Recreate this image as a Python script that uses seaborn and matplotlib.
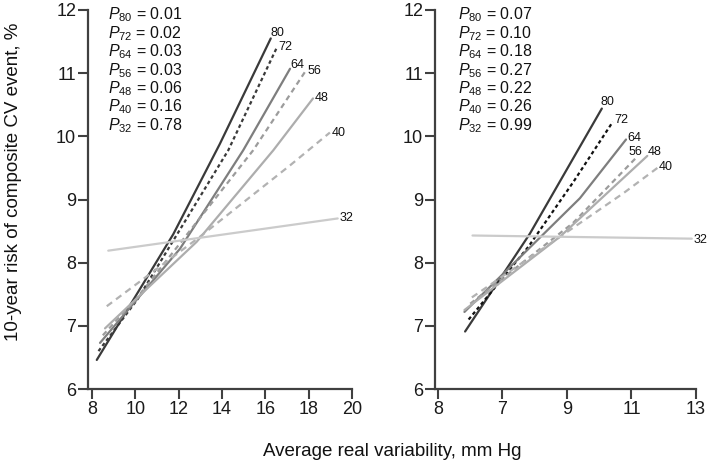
import numpy as np
import pandas as pd
import matplotlib
matplotlib.use("Agg")
import matplotlib.pyplot as plt
import seaborn as sns

# ---------------- data ----------------
groups = ["80", "72", "64", "56", "48", "40", "32"]

left_x = {
    "80": [8.22, 11.75, 13.9, 16.25],
    "72": [8.3, 10.1, 14.29, 16.55],
    "64": [8.37, 12.06, 14.98, 17.14],
    "56": [8.5, 10.1, 15.44, 17.83],
    "48": [8.6, 12.83, 16.37, 18.2],
    "40": [8.68, 12.98, 17.14, 18.98],
    "32": [8.75, 19.34],
}
left_y = {
    "80": [6.46, 8.45, 9.88, 11.55],
    "72": [6.60, 7.42, 9.78, 11.42],
    "64": [6.73, 8.22, 9.78, 11.07],
    "56": [6.85, 7.45, 9.78, 11.02],
    "48": [6.96, 8.33, 9.78, 10.60],
    "40": [7.31, 8.41, 9.54, 10.06],
    "32": [8.19, 8.70],
}
right_x = {
    "80": [5.84, 7.85, 10.08],
    "72": [5.95, 7.8, 9.2, 10.42],
    "64": [5.82, 9.4, 10.83],
    "56": [6.0, 9.19, 11.16],
    "48": [5.82, 8.78, 11.49],
    "40": [6.05, 10.75, 11.83],
    "32": [6.07, 12.87],
}
right_y = {
    "80": [6.91, 8.46, 10.44],
    "72": [7.10, 8.25, 9.28, 10.23],
    "64": [7.22, 9.02, 9.95],
    "56": [7.35, 8.63, 9.67],
    "48": [7.25, 8.41, 9.69],
    "40": [7.45, 9.10, 9.51],
    "32": [8.43, 8.38],
}

left_p = ["0.01", "0.02", "0.03", "0.03", "0.06", "0.16", "0.78"]
right_p = ["0.07", "0.10", "0.18", "0.27", "0.22", "0.26", "0.99"]

left_xticks = [8, 10, 12, 14, 16, 18, 20]
left_xticklabels = ["8", "10", "12", "14", "16", "18", "20"]
right_xticks = [5, 7, 9, 11, 13]
right_xticklabels = ["8", "7", "9", "11", "13"]
yticks = [6, 7, 8, 9, 10, 11, 12]

xlabel = "Average real variability, mm Hg"
ylabel = "10-year risk of composite CV event, %"


def long_df(xd, yd):
    rows = []
    for g in groups:
        for xv, yv in zip(xd[g], yd[g]):
            rows.append({"group": g, "x": xv, "y": yv})
    return pd.DataFrame(rows)


df_left = long_df(left_x, left_y)
df_right = long_df(right_x, right_y)

# ---------------- style ----------------
sns.set_style("white")
plt.rcParams["mathtext.fontset"] = "custom"
plt.rcParams["mathtext.rm"] = "Liberation Sans"
plt.rcParams["mathtext.it"] = "Liberation Sans:italic"
plt.rcParams["font.family"] = ["Liberation Sans", "DejaVu Sans"]

pal_left = {"80": "#3a3a3a", "72": "#3a3a3a", "64": "#7e7e7e", "56": "#9c9c9c",
            "48": "#adadad", "40": "#b2b2b2", "32": "#cbcbcb"}
pal_right = dict(pal_left)
pal_right["72"] = "#111111"
dash_map = {"80": "", "72": (1.6, 1.3), "64": "", "56": (2.4, 1.8),
            "48": "", "40": (3.0, 2.2), "32": ""}

# label offsets (points) for end labels
off_left = {"80": (0, 4), "72": (1, 0), "64": (0, 3), "56": (2, 1),
            "48": (1, 0), "40": (1, 0), "32": (1, 0)}
off_right = {"80": (-1, 5), "72": (1, 1), "64": (1, 1), "56": (-6, 4),
             "48": (0, 3), "40": (0, 0), "32": (1, -1)}

W, H = 708, 467
fig = plt.figure(figsize=(W / 100, H / 100), dpi=100)
ax1 = fig.add_axes([88 / W, 1 - 389 / H, 264 / W, 379 / H])
ax2 = fig.add_axes([435 / W, 1 - 389 / H, 261 / W, 379 / H])

spine_col = "#404040"

for ax, df, pal, xd, yd, offs, pvals, xt, xtl, xlim, px in [
    (ax1, df_left, pal_left, left_x, left_y, off_left, left_p,
     left_xticks, left_xticklabels, (7.815, 20), 108),
    (ax2, df_right, pal_right, right_x, right_y, off_right, right_p,
     right_xticks, right_xticklabels, (4.907, 13), 458),
]:
    sns.lineplot(data=df, x="x", y="y", hue="group", style="group",
                 hue_order=groups, style_order=groups,
                 palette=pal, dashes=dash_map, estimator=None, sort=True,
                 legend=False, linewidth=1.6, ax=ax)
    ax.set_xlim(*xlim)
    ax.set_ylim(6, 12)
    ax.set_xticks(xt)
    ax.set_xticklabels(xtl)
    ax.set_yticks(yticks)
    ax.set_yticklabels([str(t) for t in yticks])
    ax.set_xlabel("")
    ax.set_ylabel("")
    for s in ["top", "right"]:
        ax.spines[s].set_visible(False)
    for s in ["left", "bottom"]:
        ax.spines[s].set_color(spine_col)
        ax.spines[s].set_linewidth(1.6)
    ax.tick_params(axis="both", which="major", bottom=True, left=True,
                   direction="out", length=7, width=1.5,
                   color=spine_col, pad=1.5, labelsize=13,
                   labelcolor="#1a1a1a")
    ax.patch.set_alpha(0)

    # end labels
    for g in groups:
        ax.annotate(g, xy=(xd[g][-1], yd[g][-1]), xytext=offs[g],
                    textcoords="offset points", ha="left", va="center",
                    fontsize=9, color="#111111", annotation_clip=False)

    # P-values
    for i, (g, p) in enumerate(zip(groups, pvals)):
        fig.text(px / W, 1 - (19.5 + 18.45 * i) / H,
                 r"$P_{" + g + r"}$ = " + p, fontsize=11.5,
                 ha="left", va="baseline", color="#111111")

fig.text(392 / W, 1 - 451 / H, xlabel, ha="center", va="center",
         fontsize=13.5, color="#111111")
fig.text(14 / W, 1 - 182 / H, ylabel, ha="center", va="center",
         rotation=90, fontsize=13.5, color="#111111")

fig.savefig("out.png", dpi=100)
